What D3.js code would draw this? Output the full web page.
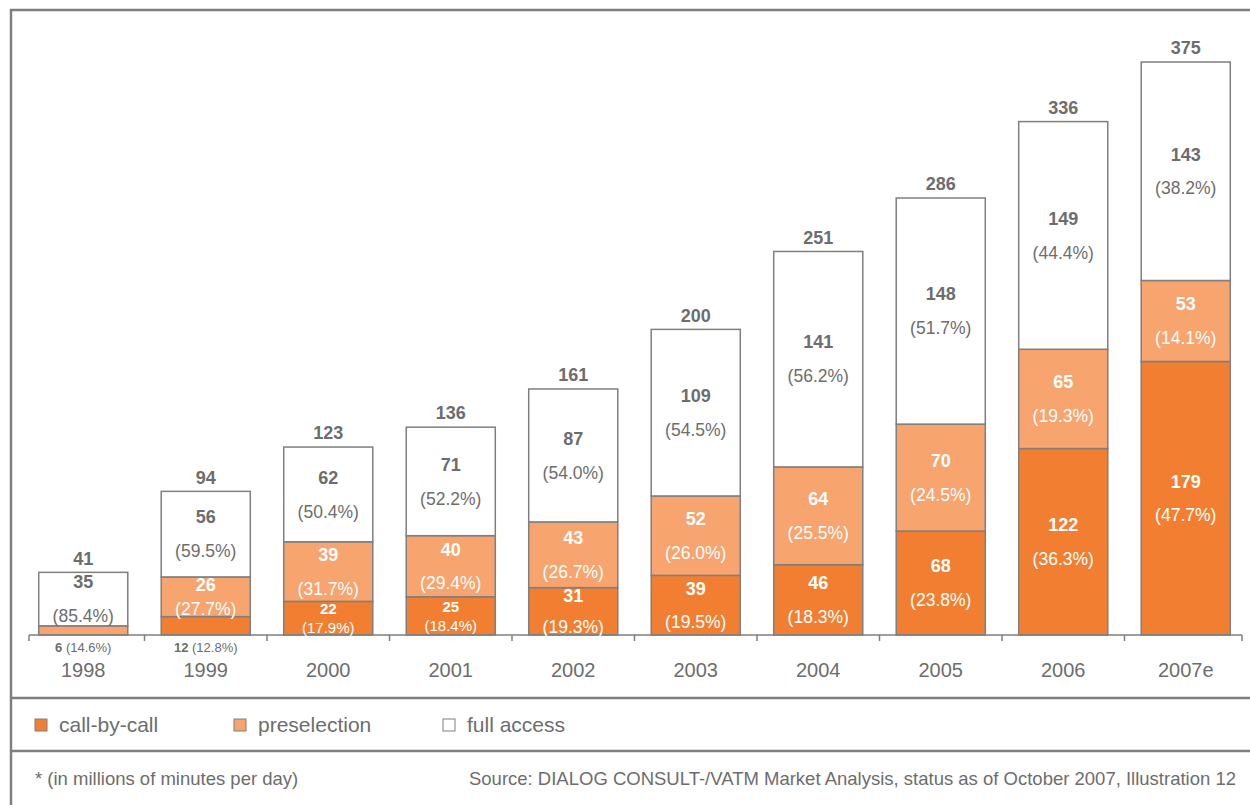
<!DOCTYPE html>
<html>
<head>
<meta charset="utf-8">
<script src="https://cdn.jsdelivr.net/npm/d3@7"></script>
<style>
  body { margin: 0; background: #fff; }
  svg text { font-family: 'Liberation Sans', Arial, sans-serif; }
</style>
</head>
<body>
<div id="chart"></div>
<script>
// values in millions of minutes per day
const years = ['1998', '1999', '2000', '2001', '2002', '2003', '2004', '2005', '2006', '2007e']
const callByCall = [0, 12, 22, 25, 31, 39, 46, 68, 122, 179]
const preselection = [6, 26, 39, 40, 43, 52, 64, 70, 65, 53]
const fullAccess = [35, 56, 62, 71, 87, 109, 141, 148, 149, 143]
const totals = [41, 94, 123, 136, 161, 200, 251, 286, 336, 375]
const pctCallByCall = [0, 12.8, 17.9, 18.4, 19.3, 19.5, 18.3, 23.8, 36.3, 47.7]
const pctPreselection = [14.6, 27.7, 31.7, 29.4, 26.7, 26.0, 25.5, 24.5, 19.3, 14.1]
const pctFullAccess = [85.4, 59.5, 50.4, 52.2, 54.0, 54.5, 56.2, 51.7, 44.4, 38.2]

const seriesNames = ['call-by-call', 'preselection', 'full access']
const seriesKeys = ['cbc', 'pre', 'full']

const width = 1250
const height = 805
const gray = '#7f7f7f'
const textGray = '#6d6d6d'
const colors = {cbc: '#f27f31', pre: '#f7a46f', full: '#ffffff'}
const labelColors = {cbc: '#ffffff', pre: '#ffffff', full: textGray}

const rows = years.map((year, i) => ({
  year: year,
  cbc: callByCall[i],
  pre: preselection[i],
  full: fullAccess[i],
  pct: {cbc: pctCallByCall[i], pre: pctPreselection[i], full: pctFullAccess[i]},
  total: totals[i]
}))

const svg = d3.select('#chart').append('svg')
  .attr('width', width)
  .attr('height', height)

const x = d3.scaleBand()
  .domain(years)
  .range([22, 1247])
  .paddingInner(0.273)
  .paddingOuter(0.1365)

const y = d3.scaleLinear()
  .domain([0, 375])
  .range([635, 62])

const stack = d3.stack().keys(seriesKeys)
const layers = stack(rows)

// frame lines
const frame = svg.append('g')
  .attr('stroke', gray)
  .attr('stroke-width', 2.5)
frame.append('line').attr('x1', 10).attr('x2', width).attr('y1', 10).attr('y2', 10)
frame.append('line').attr('x1', 11).attr('x2', 11).attr('y1', 9).attr('y2', height)
frame.append('line').attr('x1', 11).attr('x2', width).attr('y1', 698).attr('y2', 698)
frame.append('line').attr('x1', 11).attr('x2', width).attr('y1', 751).attr('y2', 751)

// bars
const layerG = svg.selectAll('g.layer')
  .data(layers)
  .enter()
  .append('g')
  .attr('class', 'layer')

layerG.selectAll('rect')
  .data(d => d.map(s => ({key: d.key, s: s})))
  .enter()
  .filter(d => d.s[1] - d.s[0] > 0)
  .append('rect')
  .attr('x', d => x(d.s.data.year))
  .attr('width', x.bandwidth())
  .attr('y', d => y(d.s[1]))
  .attr('height', d => y(d.s[0]) - y(d.s[1]))
  .attr('fill', d => colors[d.key])
  .attr('stroke', gray)
  .attr('stroke-width', 1.5)

// x axis
const axis = svg.append('g')
  .attr('transform', `translate(0,${y(0)})`)
  .attr('stroke', gray)
  .attr('stroke-width', 1.5)
axis.append('line').attr('x1', 29).attr('x2', 1242).attr('y1', 0).attr('y2', 0)
const tickXs = [29].concat(years.slice(1).map(yr => x(yr) - x.step() * x.paddingInner() / 2), [1242])
axis.selectAll('line.tick')
  .data(tickXs)
  .enter()
  .append('line')
  .attr('class', 'tick')
  .attr('x1', d => d).attr('x2', d => d)
  .attr('y1', 0).attr('y2', 6)

svg.append('g')
  .selectAll('text')
  .data(years)
  .enter()
  .append('text')
  .attr('x', d => x(d) + x.bandwidth() / 2)
  .attr('y', 670)
  .attr('dy', '0.35em')
  .attr('text-anchor', 'middle')
  .attr('font-size', 20)
  .attr('fill', textGray)
  .text(d => d)

// totals on top
svg.append('g')
  .selectAll('text')
  .data(rows)
  .enter()
  .append('text')
  .attr('x', d => x(d.year) + x.bandwidth() / 2)
  .attr('y', d => y(d.total) - 14)
  .attr('dy', '0.35em')
  .attr('text-anchor', 'middle')
  .attr('font-size', 18)
  .attr('font-weight', 'bold')
  .attr('fill', textGray)
  .text(d => d.total)

// segment labels
const fmtPct = v => '(' + v.toFixed(1) + '%)'
const segLabels = []
layers.forEach(layer => {
  layer.forEach(s => {
    const v = s[1] - s[0]
    if (v > 0) segLabels.push({key: layer.key, v: v, s: s})
  })
})

segLabels.forEach(d => {
  const cx = x(d.s.data.year) + x.bandwidth() / 2
  const pct = d.s.data.pct[d.key]
  if (d.v < 15) {
    // too thin: label goes under the axis
    const t = svg.append('text')
      .attr('x', cx)
      .attr('y', 647)
      .attr('dy', '0.35em')
      .attr('text-anchor', 'middle')
      .attr('font-size', 13)
      .attr('fill', textGray)
    t.append('tspan').attr('font-weight', 'bold').text(d.v + ' ')
    t.append('tspan').text(fmtPct(pct))
    return
  }
  const top = y(d.s[1])
  const bottom = y(d.s[0])
  const cy = (top + bottom) / 2
  const compact = d.v < 26
  const size = compact ? 15 : 17.5
  const gap = compact ? 9.5 : Math.min(17, (bottom - top) / 2 - 8)
  svg.append('text')
    .attr('x', cx)
    .attr('y', cy - gap)
    .attr('dy', '0.35em')
    .attr('text-anchor', 'middle')
    .attr('font-size', compact ? 15 : 18)
    .attr('font-weight', 'bold')
    .attr('fill', labelColors[d.key])
    .text(d.v)
  svg.append('text')
    .attr('x', cx)
    .attr('y', cy + gap)
    .attr('dy', '0.35em')
    .attr('text-anchor', 'middle')
    .attr('font-size', size)
    .attr('fill', labelColors[d.key])
    .text(fmtPct(pct))
})

// legend
const legendX = [35, 234, 443]
const legend = svg.append('g')
  .selectAll('g')
  .data(seriesKeys)
  .enter()
  .append('g')
  .attr('transform', (d, i) => `translate(${legendX[i]},725)`)
legend.append('rect')
  .attr('x', 0).attr('y', -6)
  .attr('width', 12).attr('height', 12)
  .attr('fill', d => colors[d])
  .attr('stroke', gray)
  .attr('stroke-width', 1)
legend.append('text')
  .attr('x', 24)
  .attr('y', 0)
  .attr('dy', '0.35em')
  .attr('font-size', 21)
  .attr('fill', textGray)
  .text((d, i) => seriesNames[i])

// footer
svg.append('text')
  .attr('x', 35).attr('y', 779).attr('dy', '0.35em')
  .attr('font-size', 18.5)
  .attr('fill', textGray)
  .text('* (in millions of minutes per day)')
svg.append('text')
  .attr('x', 1236).attr('y', 779).attr('dy', '0.35em')
  .attr('text-anchor', 'end')
  .attr('font-size', 18.5)
  .attr('fill', textGray)
  .text('Source: DIALOG CONSULT-/VATM Market Analysis, status as of October 2007, Illustration 12')
</script>
</body>
</html>
